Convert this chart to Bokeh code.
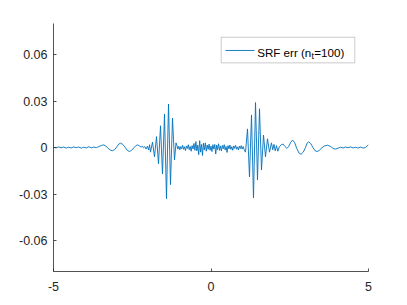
from bokeh.plotting import figure
from bokeh.models import Range1d, FixedTicker, BoxAnnotation, Label
from bokeh.embed import file_html
from bokeh.resources import INLINE

# ---- data (x, SRF error) ----
t_vals = [
    -5.00, -4.92, -4.84, -4.76, -4.68, -4.60, -4.52, -4.44, -4.36, -4.28,
    -4.20, -4.12, -4.04, -3.96, -3.88, -3.80, -3.72, -3.64, -3.56, -3.48,
    -3.41, -3.34, -3.27, -3.20, -3.13, -3.06, -2.99, -2.93, -2.87, -2.80,
    -2.73, -2.66, -2.59, -2.52, -2.45, -2.39, -2.33, -2.27, -2.22, -2.18,
    -2.14, -2.10, -2.06, -2.02, -1.98, -1.95,
    -1.921, -1.857, -1.794, -1.730, -1.667, -1.603, -1.540, -1.476, -1.413,
    -1.349, -1.286, -1.222, -1.159, -1.11,
    -1.08, -1.05, -1.02, -0.99, -0.96, -0.93, -0.90, -0.87, -0.84, -0.81,
    -0.78, -0.75, -0.72, -0.69, -0.66, -0.63, -0.60, -0.57, -0.54, -0.51,
    -0.48, -0.45, -0.42, -0.39, -0.36, -0.33, -0.30, -0.27, -0.24, -0.21,
    -0.18, -0.15, -0.12, -0.09, -0.06, -0.03, 0.00, 0.03, 0.06, 0.09,
    0.12, 0.15, 0.18, 0.21, 0.24, 0.27, 0.30, 0.33, 0.36, 0.39,
    0.42, 0.45, 0.48, 0.51, 0.54, 0.57, 0.60, 0.63, 0.66, 0.69,
    0.72, 0.75, 0.78, 0.81, 0.84, 0.87, 0.90, 0.93, 0.96, 0.99,
    1.02, 1.05,
    1.095, 1.159, 1.222, 1.286, 1.349, 1.413, 1.476, 1.540, 1.603, 1.667,
    1.730, 1.794, 1.857, 1.92,
    1.96, 2.00, 2.04, 2.08, 2.12, 2.17, 2.23, 2.29, 2.35, 2.41,
    2.47, 2.53, 2.59, 2.66, 2.72, 2.79, 2.86, 2.93, 3.00, 3.05,
    3.10, 3.17, 3.24, 3.31, 3.37, 3.44, 3.52, 3.60, 3.70, 3.80,
    3.88, 3.95, 4.03, 4.11, 4.19, 4.27, 4.35, 4.43, 4.51, 4.59,
    4.67, 4.75, 4.83, 4.91, 5.00,
]

err_milli = [
    0.2, -0.3, 0.4, -0.2, 0.3, -0.4, 0.2, -0.3, 0.4, -0.1,
    0.3, -0.4, 0.2, -0.3, 0.5, -0.2, 0.3, -0.1, 0.6, 1.3,
    1.7, 1.0, -0.5, -1.6, -2.1, -1.4, 0.4, 2.2, 2.8, 2.0,
    0.2, -1.8, -2.6, -1.8, -0.2, 1.1, 1.7, 1.0, 0.2, 0.9,
    -0.2, 0.6, -1.0, 0.8, -1.6, 1.8,
    -3.0, 3.5, -6.0, 7.0, -10.5, 14.0, -17.0, 21.5, -33.0,
    28.0, -24.0, 19.0, -8.0, 3.0,
    1.2, -1.0, 0.8, -1.5, 0.6, -0.8, 1.4, -1.2, 0.5, -2.0,
    1.0, -0.6, 1.8, -1.4, 0.7, -2.4, 1.2, -0.9, 2.6, -1.8,
    3.8, -2.2, 1.5, -4.6, 4.4, -3.0, 2.0, -5.2, 2.8, -1.6,
    3.0, -2.4, 1.6, -1.2, 2.2, -1.8, 0.9, -2.6, 1.8, -1.0,
    2.0, -4.2, 1.6, -1.4, 2.4, -1.8, 1.0, -2.2, 1.4, -0.8,
    1.8, -1.6, 0.6, -3.2, 1.2, -0.9, 1.6, -1.2, 0.5, -1.8,
    1.0, -0.6, 1.4, -1.1, 0.4, -1.6, 0.9, -0.7, 1.2, -1.0,
    0.6, -1.2,
    -3.0, 12.0, -19.0, 21.0, -32.5, 29.0, -21.0, 25.0, -14.5, 8.0,
    -6.0, 5.6, -3.0, 3.0,
    -1.5, 2.0, -2.2, 1.2, -2.4, 0.4, 1.8, 2.2, 0.6, -0.6,
    0.8, 3.4, 4.8, 3.0, -0.5, -3.5, -4.4, -3.0, 0.0, 2.8,
    3.7, 2.5, -0.2, -2.2, -2.6, -1.8, -0.2, 1.0, 1.5, 0.6,
    -0.7, -1.0, -0.5, 0.2, -0.3, 0.3, -0.2, 0.4, -0.3, 0.2,
    -0.4, 0.3, -0.4, 0.1, 1.8,
]
err_vals = [v / 1000.0 for v in err_milli]

x_ticks = [-5, 0, 5]
x_tick_labels = ["-5", "0", "5"]
y_ticks = [-0.06, -0.03, 0, 0.03, 0.06]
y_tick_labels = ["-0.06", "-0.03", "0", "0.03", "0.06"]

legend_main = "SRF err (n"
legend_sub = "t"
legend_tail = "=100)"

LINE = "#0072BD"
AX = "#262626"
FONT = "Liberation Sans"

p = figure(width=407, height=305, output_backend="svg", toolbar_location=None,
           x_range=Range1d(-5, 5), y_range=Range1d(-0.08, 0.08),
           min_border_left=53, min_border_right=39,
           min_border_top=23, min_border_bottom=34)
p.outline_line_color = None
p.xgrid.visible = False
p.ygrid.visible = False
p.background_fill_color = "white"

p.line(t_vals, err_vals, line_color=LINE, line_width=0.9)

for ax, ticks, labels in ((p.xaxis[0], x_ticks, x_tick_labels),
                          (p.yaxis[0], y_ticks, y_tick_labels)):
    ax.ticker = FixedTicker(ticks=ticks)
    ax.major_label_overrides = {t: l for t, l in zip(ticks, labels)}
    ax.axis_line_color = AX
    ax.axis_line_width = 0.8
    ax.major_tick_line_color = AX
    ax.major_tick_line_width = 0.8
    ax.major_tick_in = 3
    ax.major_tick_out = 0
    ax.minor_tick_line_color = None
    ax.major_label_text_font = FONT
    ax.major_label_text_font_size = "12.5px"
    ax.major_label_text_color = AX
p.xaxis.major_label_standoff = 10
p.yaxis.major_label_standoff = 6

# legend (manual, to allow subscript)
box = BoxAnnotation(left=0.324, right=4.565, bottom=0.0546, top=0.0711,
                    fill_color="white", fill_alpha=1.0,
                    line_color=AX, line_width=0.8)
p.add_layout(box)
seg = p.segment(x0=[0.46], y0=[0.0626], x1=[1.38], y1=[0.0626],
                line_color=LINE, line_width=0.9)
seg.level = "overlay"
for txt, x, y, size in ((legend_main, 1.467, 0.0614, "11.6px"),
                        (legend_sub, 3.190, 0.0592, "8.8px"),
                        (legend_tail, 3.280, 0.0614, "11.6px")):
    p.add_layout(Label(x=x, y=y, text=txt, text_font=FONT, text_font_size=size,
                       text_color="black", text_baseline="alphabetic",
                       text_align="left"))

open("out.html", "w").write(file_html(p, INLINE))
